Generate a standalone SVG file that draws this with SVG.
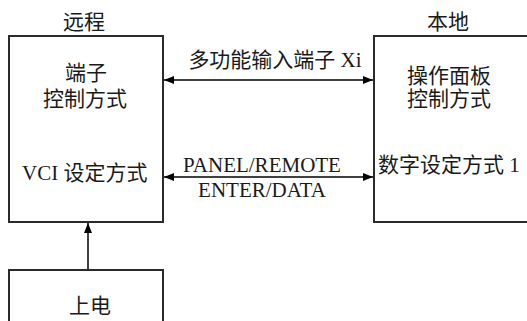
<svg xmlns="http://www.w3.org/2000/svg" width="527" height="321" viewBox="0 0 527 321">
<style>
.box{fill:#fff;stroke:#2b2b2b;stroke-width:2}
.ln{stroke:#000;stroke-width:1.5;fill:none}
.t{font-family:"Liberation Serif","Noto Sans CJK SC",serif;font-size:21px;fill:#1a1a1a;font-weight:normal}
.m{text-anchor:middle}
</style>
<defs>
<marker id="ah" viewBox="0 0 10 8" refX="10" refY="4" markerWidth="10" markerHeight="8" markerUnits="userSpaceOnUse" orient="auto-start-reverse">
<path d="M0,0 L10,4 L0,8 Z" fill="#000"/>
</marker>
</defs>
<rect width="527" height="321" fill="#fff"/>
<g id="remote">
<rect class="box" x="9" y="36" width="154" height="186"/>
<text class="t m" x="84" y="29">远程</text>
<text class="t m" x="86" y="80">端子</text>
<text class="t m" x="85" y="106">控制方式</text>
<text class="t" x="22" y="180">VCI 设定方式</text>
</g>
<g id="local">
<rect class="box" x="374" y="36" width="170" height="186"/>
<text class="t m" x="448" y="29">本地</text>
<text class="t m" x="449" y="83">操作面板</text>
<text class="t m" x="449" y="106">控制方式</text>
<text class="t" x="378" y="172">数字设定方式 1</text>
</g>
<g id="poweron">
<rect class="box" x="9" y="270" width="154" height="70"/>
<text class="t m" x="90" y="313">上电</text>
</g>
<g id="connectors">
<line class="ln" x1="164" y1="80" x2="373" y2="80" marker-start="url(#ah)" marker-end="url(#ah)"/>
<line class="ln" x1="164" y1="177" x2="373" y2="177" marker-start="url(#ah)" marker-end="url(#ah)"/>
<line class="ln" x1="88" y1="269" x2="88" y2="223" marker-end="url(#ah)"/>
<text class="t m" x="275" y="67">多功能输入端子 Xi</text>
<text class="t m" x="262" y="172">PANEL/REMOTE</text>
<text class="t m" x="262" y="197">ENTER/DATA</text>
</g>
</svg>
